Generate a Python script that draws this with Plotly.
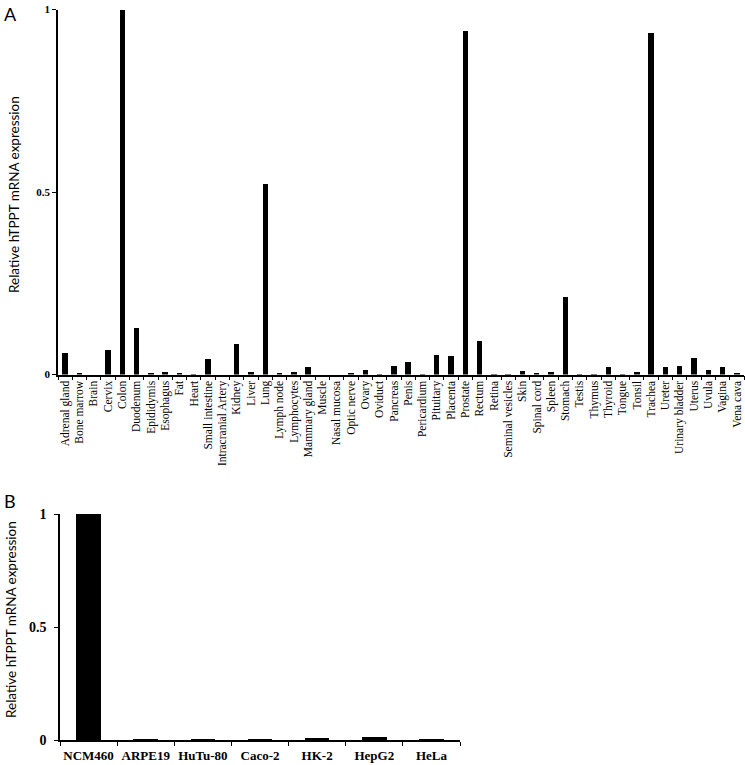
import plotly.graph_objects as go

tissues = ["Adrenal gland", "Bone marrow", "Brain", "Cervix", "Colon", "Duodenum", "Epididymis",
           "Esophagus", "Fat", "Heart", "Small intestine", "Intracranial Artery", "Kidney", "Liver",
           "Lung", "Lymph node", "Lymphocytes", "Mammary gland", "Muscle", "Nasal mucosa",
           "Optic nerve", "Ovary", "Oviduct", "Pancreas", "Penis", "Pericardium", "Pituitary",
           "Placenta", "Prostate", "Rectum", "Retina", "Seminal vesicles", "Skin", "Spinal cord",
           "Spleen", "Stomach", "Testis", "Thymus", "Thyroid", "Tongue", "Tonsil", "Trachea",
           "Ureter", "Urinary bladder", "Uterus", "Uvula", "Vagina", "Vena cava"]
tissue_values = [0.060, 0.003, 0.0, 0.069, 1.0, 0.130, 0.003,
                 0.008, 0.004, 0.002, 0.044, 0.0, 0.085, 0.008,
                 0.523, 0.003, 0.007, 0.021, 0.0, 0.0,
                 0.004, 0.015, 0.002, 0.026, 0.037, 0.002, 0.056,
                 0.051, 0.942, 0.093, 0.002, 0.001, 0.011, 0.003,
                 0.007, 0.215, 0.002, 0.002, 0.022, 0.002, 0.007, 0.936,
                 0.022, 0.026, 0.047, 0.015, 0.022, 0.003]

cell_lines = ["NCM460", "ARPE19", "HuTu-80", "Caco-2", "HK-2", "HepG2", "HeLa"]
cell_values = [1.0, 0.001, 0.001, 0.004, 0.007, 0.015, 0.001]

y_ticks = [0, 0.5, 1]
y_ticklabels = ["0", "0.5", "1"]
y_title = "Relative hTPPT mRNA expression"

W, H = 745, 765
serif = "Liberation Serif, Times New Roman, serif"
sans = "Lato, Open Sans, sans-serif"

fig = go.Figure()
fig.add_trace(go.Bar(x=tissues, y=tissue_values, marker=dict(color="black", line=dict(width=0)),
                     width=0.38, xaxis="x", yaxis="y", showlegend=False))
fig.add_trace(go.Bar(x=cell_lines, y=cell_values, marker=dict(color="black", line=dict(width=0)),
                     width=0.43, xaxis="x2", yaxis="y2", showlegend=False))

axis_common = dict(showline=True, linecolor="black", linewidth=1.5, showgrid=False,
                   zeroline=False, ticks="outside", tickcolor="black", ticklen=4, tickwidth=1.2)


def px_x(x):
    return x / W


def px_y(y):
    return (H - y) / H


fig.update_layout(
    width=W, height=H,
    margin=dict(l=0, r=0, t=0, b=0),
    plot_bgcolor="white", paper_bgcolor="white",
    bargap=0,
    xaxis=dict(domain=[px_x(58), px_x(744)], anchor="y", tickangle=-90, tickson="boundaries",
               tickfont=dict(family=serif, size=11.5, color="black"), automargin=False,
               range=[-0.5, len(tissues) - 0.5], **axis_common),
    yaxis=dict(domain=[px_y(374.5), px_y(9.5)], anchor="x", range=[0, 1], tickvals=y_ticks,
               ticktext=y_ticklabels,
               tickfont=dict(family=serif, size=11, color="black", weight="bold"),
               automargin=False, **axis_common),
    xaxis2=dict(domain=[px_x(60), px_x(460)], anchor="y2", tickson="boundaries", tickangle=0,
                tickfont=dict(family=serif, size=13, color="black", weight="bold"),
                ticklabelstandoff=3, automargin=False,
                range=[-0.5, len(cell_lines) - 0.5], **axis_common),
    yaxis2=dict(domain=[px_y(740), px_y(514)], anchor="x2", range=[0, 1], tickvals=y_ticks,
                ticktext=y_ticklabels, ticklabelstandoff=5,
                tickfont=dict(family=serif, size=14, color="black", weight="bold"),
                automargin=False, **axis_common),
    annotations=[
        dict(text=y_title, x=px_x(14), y=px_y(195), xanchor="center", yanchor="middle"),
        dict(text=y_title, x=px_x(11), y=px_y(620), xanchor="center", yanchor="middle"),
        dict(text="A", x=px_x(2), y=px_y(1), xanchor="left", yanchor="top"),
        dict(text="B", x=px_x(2), y=px_y(488), xanchor="left", yanchor="top"),
    ],
)

for i, a in enumerate(fig.layout.annotations):
    a.xref = "paper"
    a.yref = "paper"
    a.showarrow = False
    if i < 2:
        a.textangle = -90
        a.font = dict(family=sans, size=13.5, color="black")
    else:
        a.font = dict(family=sans, size=18, color="black")

fig.write_html("out.html", config={"displayModeBar": False},
               post_script="document.body.style.margin='0';document.body.style.padding='0';")
